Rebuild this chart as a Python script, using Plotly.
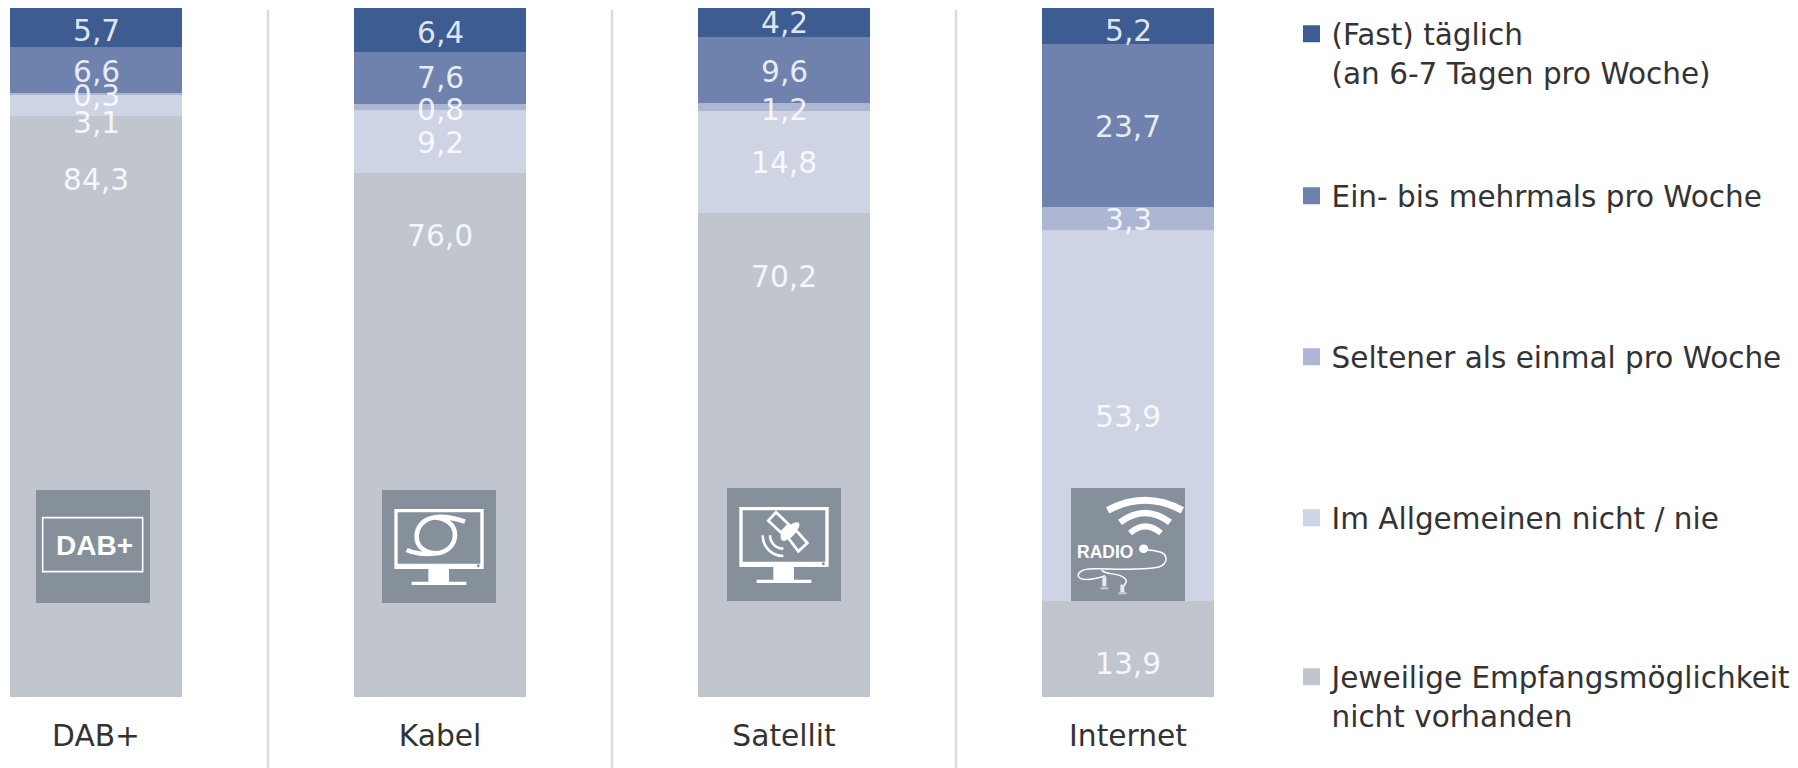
import re
import plotly.graph_objects as go

categories = ["DAB+", "Kabel", "Satellit", "Internet"]
nicht_vorhanden = [84.3, 76.0, 70.2, 13.9]
nie = [3.1, 9.2, 14.8, 53.9]
seltener = [0.3, 0.8, 1.2, 3.3]
woechentlich = [6.6, 7.6, 9.6, 23.7]
taeglich = [5.7, 6.4, 4.2, 5.2]

series_names = [
    "Jeweilige Empfangsmöglichkeit<br>nicht vorhanden",
    "Im Allgemeinen nicht / nie",
    "Seltener als einmal pro Woche",
    "Ein- bis mehrmals pro Woche",
    "(Fast) täglich<br>(an 6-7 Tagen pro Woche)",
]
series_values = [nicht_vorhanden, nie, seltener, woechentlich, taeglich]
series_colors = ["#c1c6ce", "#ced4e3", "#adb6d2", "#6e82ad", "#3d5c92"]

# vertical nudge of each value label in px (down is positive), per series, per category
label_nudges = [
    [-227, -200, -179, 14],
    [17, 1, 0, 1],
    [2, 2, 2, 1],
    [1, -1, 1, 1],
    [3, 2, 0, 5],
]

W, H = 1798, 768
L_PLOT, R_PLOT, TOP, BOTTOM = 0, 1240, 8, 697
FONT = "DejaVu Sans"
SIZE = 29.7
ICON_BG = "#85909b"
WHITE = "#ffffff"

fig = go.Figure()
cum = [0, 0, 0, 0]
ann = []
for si, (name, vals, col) in enumerate(zip(series_names, series_values, series_colors)):
    fig.add_trace(go.Bar(x=categories, y=vals, name=name, marker_color=col, marker_line_width=0, showlegend=False))
    legend_id = "legend" if si == 0 else f"legend{si + 1}"
    fig.add_trace(go.Bar(x=[None], y=[None], name=name, marker=dict(color=col, line=dict(color=col, width=5)),
                         legend=legend_id, showlegend=True))
    for ci, v in enumerate(vals):
        ann.append(dict(x=categories[ci], y=cum[ci] + v / 2, text=f"{v:.1f}".replace(".", ","),
                        xref="x", yref="y", showarrow=False, yshift=-label_nudges[si][ci],
                        font=dict(family=FONT, size=SIZE, color="rgba(255,255,255,0.85)")))
        cum[ci] += v

PW, PH = R_PLOT - L_PLOT, BOTTOM - TOP
def fx(px): return (px - L_PLOT) / PW
def fy(py): return 1 - (py - TOP) / PH

legend_y = [696, 518, 357, 196, 53]
legends = {}
for si, y in enumerate(legend_y):
    key = "legend" if si == 0 else f"legend{si + 1}"
    legends[key] = dict(x=fx(1291.5), xanchor="left", y=fy(y), yanchor="middle",
                        valign="top", bgcolor="rgba(0,0,0,0)", borderwidth=0,
                        font=dict(family=FONT, size=29.5, color="#333333"))

fig.update_layout(
    width=W, height=H, barmode="stack", bargap=0.5,
    margin=dict(l=L_PLOT, r=W - R_PLOT, t=TOP, b=H - BOTTOM, pad=0, autoexpand=False),
    paper_bgcolor="white", plot_bgcolor="white",
    xaxis=dict(type="category", range=[-96 / 344, (1240 - 96) / 344], showgrid=False, showline=False,
               ticks="outside", ticklen=12, tickcolor="rgba(0,0,0,0)",
               tickfont=dict(family=FONT, size=SIZE, color="#333333")),
    yaxis=dict(range=[0, 100], visible=False),
    **legends,
)
for x in [0.5, 1.5, 2.5]:
    fig.add_shape(type="line", xref="x", yref="paper", x0=x, x1=x, y0=fy(768), y1=fy(10),
                  line=dict(color="#d9dde3", width=2.5))


def add_path(d, ox, oy, fill=None, line=None, width=0):
    # d is given in 3x crop units measured from the crop origin (ox, oy)
    tokens = re.findall(r"[MLCQZ]|-?\d+\.?\d*,-?\d+\.?\d*", d)
    out = []
    for t in tokens:
        if "," in t:
            a, b = t.split(",")
            out.append(f"{fx(ox + float(a) / 3):.5f},{fy(oy + float(b) / 3):.5f}")
        else:
            out.append(t)
    fig.add_shape(type="path", xref="paper", yref="paper", path=" ".join(out), layer="above",
                  fillcolor=fill if fill else "rgba(0,0,0,0)", fillrule="evenodd",
                  line=dict(color=line if line else "rgba(0,0,0,0)", width=width))


def square(x0, y0, x1, y1):
    fig.add_shape(type="rect", xref="paper", yref="paper", x0=fx(x0), x1=fx(x1), y0=fy(y1), y1=fy(y0),
                  fillcolor=ICON_BG, line_width=0, layer="above")


def monitor(ox, oy):
    add_path("M58,72 L326,72 L326,252 L58,252 Z M68,82 L68,236 L316,236 L316,82 Z", ox, oy, fill=WHITE)
    add_path("M160,252 L222,252 L222,290 L274,290 L274,300 L110,300 L110,290 L160,290 Z", ox, oy, fill=WHITE)
    add_path("M306,242 C306,236 314,236 314,242 C314,248 306,248 306,242 Z", ox, oy, fill=ICON_BG)


# DAB+
square(36, 490, 150, 603)
add_path("M38,98 L338,98 L338,260 L38,260 Z", 30, 485, line=WHITE, width=1.6)
ann.append(dict(xref="paper", yref="paper", x=fx(94.7), y=fy(545.5), xanchor="center", yanchor="middle",
                text="<b>DAB+</b>", showarrow=False,
                font=dict(family="Liberation Sans", size=28, color=WHITE)))

# Kabel
square(382, 490, 496, 603)
monitor(375, 485)
add_path("M270,110 C235,98 205,93 180,97 C145,102 125,125 125,155 C125,185 150,203 180,205 "
         "C215,205 240,180 240,150 C240,120 215,100 180,97", 375, 485, line=WHITE, width=4.6)
add_path("M95,195 C115,205 150,210 180,205", 375, 485, line=WHITE, width=4.6)

# Satellit
square(727, 488, 841, 601)
monitor(720, 483)
add_path("M145,113 L168,88 L212,130 L190,155 Z", 720, 483, line=WHITE, width=2.8)
add_path("M205,165 L228,142 L262,180 L235,205 Z", 720, 483, line=WHITE, width=2.8)
add_path("M218,132 L192,160", 720, 483, line=WHITE, width=12)
add_path("M232,118 C242,118 242,142 218,146 C206,146 204,118 232,118 Z", 720, 483, fill=WHITE)
add_path("M192,146 C206,146 206,174 192,174 C178,174 178,146 192,146 Z", 720, 483, fill=WHITE)
add_path("M128,157 C128,192 155,219 190,219", 720, 483, line=WHITE, width=2.6)
add_path("M150,157 C150,180 168,197 190,197", 720, 483, line=WHITE, width=2.6)

# Internet
square(1071, 488, 1185, 601)
add_path("M128,82 Q240,22 352,82", 1065, 483, line=WHITE, width=7)
add_path("M165,118 Q240,62 315,118", 1065, 483, line=WHITE, width=6.5)
add_path("M195,150 Q240,110 288,150", 1065, 483, line=WHITE, width=6)
add_path("M222,197 C222,180 250,180 250,197 C250,214 222,214 222,197 Z", 1065, 483, fill=WHITE)
add_path("M245,200 C275,205 305,205 303,230 C300,258 260,255 210,258 C160,262 110,255 70,258 "
         "C40,262 30,280 50,288 C70,292 100,285 120,278", 1065, 483, line=WHITE, width=1.5)
add_path("M110,262 C125,275 150,270 170,280 C190,290 185,300 175,310", 1065, 483, line=WHITE, width=1.5)
add_path("M118,280 L118,310", 1065, 483, line="#e6e8eb", width=4)
add_path("M172,305 L172,328", 1065, 483, line="#e6e8eb", width=4)
add_path("M106,316 L130,316", 1065, 483, line="#c9ced4", width=2)
add_path("M160,331 L184,331", 1065, 483, line="#c9ced4", width=2)
ann.append(dict(xref="paper", yref="paper", x=fx(1065 + 119 / 3), y=fy(483 + 207 / 3), xanchor="center", yanchor="middle",
                text="<b>RADIO</b>", showarrow=False,
                font=dict(family="Liberation Sans", size=17.5, color=WHITE)))

fig.update_layout(annotations=ann)
fig.write_html("out.html", post_script="document.body.style.margin='0';", config={"displayModeBar": False})
